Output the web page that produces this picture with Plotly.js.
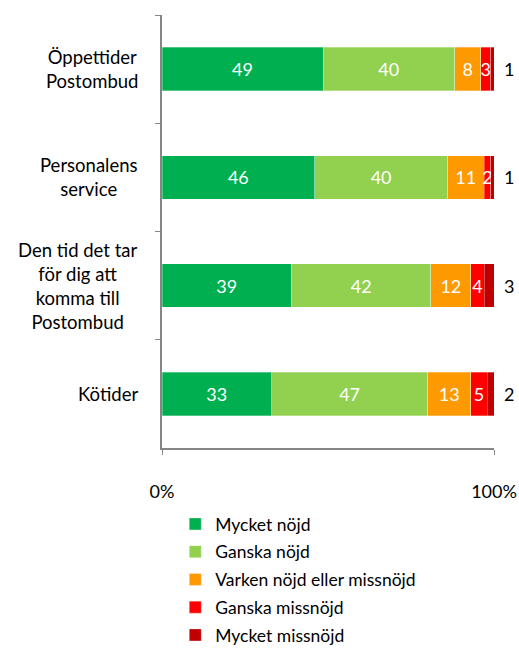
<!DOCTYPE html>
<html><head><meta charset="utf-8">
<script src="https://cdn.plot.ly/plotly-3.0.1.min.js"></script>
<style>body{margin:0;background:#fff}#c{width:519px;height:652px}</style>
</head><body><div id="c"></div>
<script>
const categories = ["Öppettider<br>Postombud", "Personalens<br>service", "Den tid det tar<br>för dig att<br>komma till<br>Postombud", "Kötider"];
const seriesNames = ["Mycket nöjd", "Ganska nöjd", "Varken nöjd eller missnöjd", "Ganska missnöjd", "Mycket missnöjd"];
const mycketNojd = [49, 46, 39, 33];
const ganskaNojd = [40, 40, 42, 47];
const varken = [8, 11, 12, 13];
const ganskaMissnojd = [3, 2, 4, 5];
const mycketMissnojd = [1, 1, 3, 2];
const xTickVals = [0, 100];
const xTickText = ["0%", "100%"];
const colors = ["#00B050", "#92D050", "#FF9900", "#FF0000", "#C00000"];

const FONT = "Lato, 'Liberation Sans', sans-serif";
const series = [mycketNojd, ganskaNojd, varken, ganskaMissnojd, mycketMissnojd];
const traces = series.map((vals, i) => ({
  type: "bar", orientation: "h",
  y: categories, x: vals, name: seriesNames[i], legendgroup: "g" + i,
  marker: {color: colors[i], line: {color: "rgba(255,255,255,0.6)", width: 0.5}},
  text: i < 4 ? vals.map(String) : vals.map(() => ""),
  textposition: i < 4 ? "inside" : "none",
  insidetextanchor: "middle",
  constraintext: "none",
  textfont: {color: "#ffffff", size: 18, family: FONT},
  hoverinfo: "skip",
  width: 0.4
}));

const annotations = [];
categories.forEach((c, j) => {
  annotations.push({xref: "paper", yref: "y", x: -0.066, y: c, text: c, showarrow: false,
    xanchor: "right", align: "center", font: {size: 18.5, family: FONT, color: "#000"}});
  annotations.push({xref: "x", yref: "y", x: 100, y: c, text: String(mycketMissnojd[j]), showarrow: false,
    xanchor: "left", xshift: 8, font: {size: 18, family: FONT, color: "#000"}});
});

const layout = {
  width: 519, height: 652,
  margin: {l: 162, r: 25, t: 15, b: 204, autoexpand: false},
  barmode: "stack", barnorm: "percent",
  paper_bgcolor: "#fff", plot_bgcolor: "#fff",
  font: {family: FONT, size: 17, color: "#000"},
  showlegend: true,
  legend: {x: 0.04, y: -0.134, xanchor: "left", yanchor: "top", traceorder: "grouped", tracegroupgap: 2,
    font: {size: 17.5, family: FONT, color: "#000"}},
  xaxis: {range: [0, 100], tickvals: xTickVals, ticktext: xTickText, showgrid: false, zeroline: false,
    showline: true, linecolor: "#868686", linewidth: 2, ticks: "outside", ticklen: 5, tickcolor: "#868686",
    tickwidth: 1, ticklabelstandoff: 21, tickfont: {size: 18, family: FONT}, fixedrange: true},
  yaxis: {autorange: "reversed", type: "category", showticklabels: false, showgrid: false, zeroline: false,
    showline: true, linecolor: "#868686", linewidth: 2, ticks: "outside", ticklen: 5, tickcolor: "#868686",
    tickwidth: 1, tickson: "boundaries", fixedrange: true},
  annotations: annotations
};
Plotly.newPlot("c", traces, layout, {staticPlot: true});
</script></body></html>
